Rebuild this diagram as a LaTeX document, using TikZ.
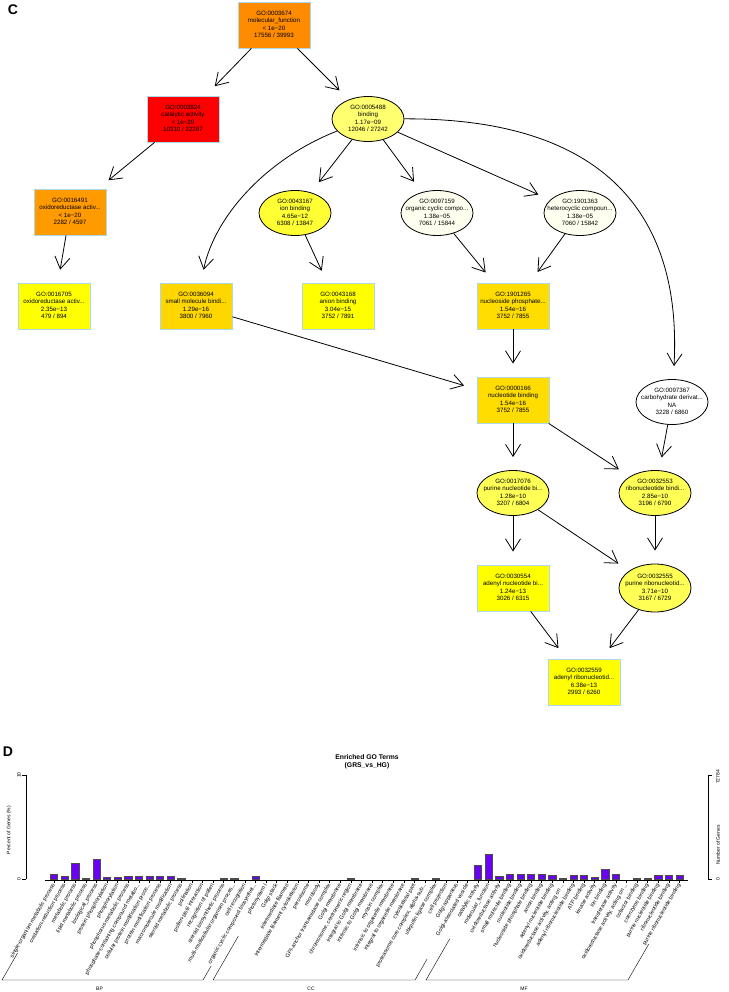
\documentclass[tikz,border=0pt]{standalone}
\usepackage{fontspec}
\setmainfont{Liberation Sans}
\usepackage{xcolor}
\usepackage{tikz}
\usetikzlibrary{arrows.meta,shapes.geometric}
\definecolor{goRed}{HTML}{FF0000}
\definecolor{goOrange}{HTML}{FF8C00}
\definecolor{goOrangeL}{HTML}{FF9A00}
\definecolor{goGold}{HTML}{FFD700}
\definecolor{goGoldL}{HTML}{FFDD00}
\definecolor{goYellow}{HTML}{FFFF00}
\definecolor{goYellowA}{HTML}{FFFF33}
\definecolor{goYellowB}{HTML}{FFFF55}
\definecolor{goYellowC}{HTML}{FFFF70}
\definecolor{goCream}{HTML}{FFFFF0}
\definecolor{goFrame}{HTML}{ADD8E6}
\definecolor{barViolet}{HTML}{6A00F4}

\newcommand{\gofont}{\fontsize{6.2}{7.3}\selectfont}
\newcommand{\goterm}[4]{\raisebox{-1.6pt}[0pt][0pt]{\makebox[0pt]{\begin{tabular}{@{}c@{}}#1\\#2\\#3\\#4\end{tabular}}}}
\newcommand{\trc}{...}

\begin{document}
\begin{tikzpicture}[x=1pt,y=-1pt,font=\gofont,
  gobox/.style={rectangle,draw=goFrame,line width=0.9pt,minimum width=72pt,minimum height=46pt,inner sep=0pt},
  gooval/.style={ellipse,draw,line width=0.8pt,minimum width=72pt,minimum height=45pt,inner sep=0pt},
  isa/.style={line width=0.8pt,-{Straight Barb[length=12pt,width=15pt]},shorten >=13pt},
  bar/.style={draw=black!70,line width=0.4pt,fill=barViolet},
  xlab/.style={font=\fontsize{5.5}{6}\selectfont,rotate=60,anchor=east,inner sep=0pt},
  axlab/.style={font=\fontsize{5}{6}\selectfont,rotate=90,inner sep=0pt},
  panel/.style={font=\fontsize{14}{14}\selectfont\bfseries}]
\useasboundingbox (0,0) rectangle (728,992);
% --- C ---
\node[panel] (labC) at (13,10) {C};
\node[gobox,fill=goOrange] (mf) at (274,25) {\goterm{GO:0003674}{molecular\_function}{< 1e−20}{17556 / 39993}};
\node[gobox,fill=goRed] (cat) at (183,119) {\goterm{GO:0003824}{catalytic activity}{< 1e−20}{10310 / 22267}};
\node[gooval,fill=goYellowC] (bind) at (368,119) {\goterm{GO:0005488}{binding}{1.17e−09}{12046 / 27242}};
\node[gobox,fill=goOrangeL] (oxr) at (70,212) {\goterm{GO:0016491}{oxidoreductase activ...}{< 1e−20}{2282 / 4597}};
\node[gooval,fill=goYellowA] (ion) at (295,213) {\goterm{GO:0043167}{ion binding}{4.65e−12}{6308 / 13847}};
\node[gooval,fill=goCream] (orgc) at (437,213) {\goterm{GO:0097159}{organic cyclic compo...}{1.38e−05}{7061 / 15844}};
\node[gooval,fill=goCream] (hetc) at (580,213) {\goterm{GO:1901363}{heterocyclic compoun...}{1.38e−05}{7060 / 15842}};
\node[gobox,fill=goYellow] (oxa) at (54,306) {\goterm{GO:0016705}{oxidoreductase activ...}{2.35e−13}{479 / 894}};
\node[gobox,fill=goGold] (smb) at (196,306) {\goterm{GO:0036094}{small molecule bindi...}{1.29e−16}{3800 / 7960}};
\node[gobox,fill=goYellow] (anion) at (338,306) {\goterm{GO:0043168}{anion binding}{3.04e−15}{3752 / 7891}};
\node[gobox,fill=goGoldL] (nsp) at (513,306) {\goterm{GO:1901265}{nucleoside phosphate...}{1.54e−16}{3752 / 7855}};
\node[gobox,fill=goGoldL] (ntb) at (513,400) {\goterm{GO:0000166}{nucleotide binding}{1.54e−16}{3752 / 7855}};
\node[gooval,fill=white] (carb) at (672,402) {\goterm{GO:0097367}{carbohydrate derivat...}{NA}{3228 / 6860}};
\node[gooval,fill=goYellowB] (pnb) at (513,493) {\goterm{GO:0017076}{purine nucleotide bi...}{1.28e−10}{3207 / 6804}};
\node[gooval,fill=goYellowB] (rnb) at (655,493) {\goterm{GO:0032553}{ribonucleotide bindi...}{2.85e−10}{3196 / 6790}};
\node[gobox,fill=goYellow] (anb) at (513,588) {\goterm{GO:0030554}{adenyl nucleotide bi...}{1.24e−13}{3026 / 6315}};
\node[gooval,fill=goYellowB,minimum height=48pt] (prb) at (655,588) {\goterm{GO:0032555}{purine ribonucleotid...}{3.71e−10}{3167 / 6729}};
\node[gobox,fill=goYellow] (arb) at (584,682) {\goterm{GO:0032559}{adenyl ribonucleotid...}{6.38e−13}{2993 / 6260}};

\draw[isa] (mf) -- (cat);
\draw[isa] (mf) -- (bind);
\draw[isa] (cat) -- (oxr);
\draw[isa] (oxr) -- (oxa);
\draw[isa] (bind) .. controls (268,158) and (215,215) .. (smb);
\draw[isa] (bind) -- (ion);
\draw[isa] (bind) -- (orgc);
\draw[isa] (bind) -- (hetc);
\draw[isa] (bind) .. controls (610,118) and (682,220) .. (carb);
\draw[isa] (ion) -- (anion);
\draw[isa] (orgc) -- (nsp);
\draw[isa] (hetc) -- (nsp);
\draw[isa] (smb) -- (ntb);
\draw[isa] (nsp) -- (ntb);
\draw[isa] (ntb) -- (pnb);
\draw[isa] (ntb) -- (rnb);
\draw[isa] (carb) -- (rnb);
\draw[isa] (pnb) -- (anb);
\draw[isa] (pnb) -- (prb);
\draw[isa] (rnb) -- (prb);
\draw[isa] (anb) -- (arb);
\draw[isa] (prb) -- (arb);

% --- D ---
\node[panel] (labD) at (8,752) {D};
\node[font=\fontsize{6.8}{8}\selectfont\bfseries,align=center] (title) at (367,762) {Enriched GO Terms\\(GRS\_vs\_HG)};
% axes
\coordinate (l0) at (26,879); \coordinate (l10) at (26,775);
\draw[line width=0.4pt] (l0) -- (l10) (l0) -- ++(-4,0) (l10) -- ++(-4,0);
\node[axlab] (lt0) at (19,879) {0};
\node[axlab] (lt10) at (19,775) {10};
\node[axlab] (ltitle) at (9,830) {Percent of Genes (\%)};
\coordinate (r0) at (708,879); \coordinate (rmax) at (708,775);
\draw[line width=0.4pt] (r0) -- (rmax) (r0) -- ++(4,0) (rmax) -- ++(4,0);
\node[axlab] (rt0) at (718,879) {0};
\node[axlab] (rtmax) at (718,777) {72784};
\node[axlab] (rtitle) at (718,845) {Number of Genes};
\draw[line width=0.4pt] (45,880) -- (688,880);
% bars
\foreach \h [count=\i] in {0.5,0.3,1.55,0.1,1.95,0.2,0.2,0.25,0.25,0.25,0.25,0.25,0.04,0,0,0,0.03,0.03,0,0.3,
  0,0,0,0,0,0,0,0,0.04,0,0,0,0,0,0.04,0,0.04,0,0,0,
  1.35,2.4,0.3,0.5,0.5,0.5,0.5,0.4,0.1,0.4,0.4,0.2,0.9,0.5,0,0.1,0.1,0.4,0.4,0.4} {
  \pgfmathsetmacro{\bx}{54+(\i-1)*10.6}
  \draw[line width=0.4pt] (\bx,880) -- (\bx,883);
  \ifdim\h pt>0pt \draw[bar] (\bx-3.6,879) rectangle (\bx+3.6,879-10.4*\h); \fi
}
% labels
\foreach \lab [count=\i] in {single-organism metabolic process, oxidation-reduction process, metabolic process,
  lipid metabolic process, biological\_process, protein phosphorylation, phosphorylation,
  phosphorus metabolic process, phosphate-containing compound metabo\trc, cellular protein modification proce\trc,
  protein modification process, macromolecule modification, steroid metabolic process, pollination,
  pollen-pistil interaction, recognition of pollen, steroid biosynthetic process,
  multi-multicellular organism proces\trc, cell recognition, organic cyclic compound biosynthet\trc,
  photosystem I, Golgi stack, intermediate filament, intermediate filament cytoskeleton, peroxisome,
  microbody, GPI-anchor transamidase complex, Golgi membrane, {chromosome, centromeric region},
  integral to Golgi membrane, intrinsic to Golgi membrane, myosin complex, intrinsic to organelle membrane,
  integral to organelle membrane, cytoskeletal part, {proteasome core complex, alpha-sub\trc},
  ubiquitin ligase complex, cell projection, Golgi apparatus, Golgi-associated vesicle,
  catalytic activity, molecular\_function, oxidoreductase activity, small molecule binding,
  nucleotide binding, nucleoside phosphate binding, anion binding, adenyl nucleotide binding,
  {oxidoreductase activity, acting on \trc}, adenyl ribonucleotide binding, ATP binding, kinase activity,
  ion binding, transferase activity, {oxidoreductase activity, acting on \trc}, cofactor binding,
  coenzyme binding, purine nucleotide binding, ribonucleotide binding, purine ribonucleotide binding} {
  \pgfmathsetmacro{\bx}{54+(\i-1)*10.6}
  \node[xlab] (x\i) at (\bx,884) {\lab};
}
% groups
\foreach \g/\la/\a/\b/\rb in {BP/27/2/203/14,CC/44/213/415/21,MF/41/426/628/36} {
  \draw[line width=0.4pt] (\a+0.577*\la,980-\la) -- (\a,980) -- (\b,980) -- (\b+0.577*\rb,980-\rb);
  \node[font=\fontsize{5}{6}\selectfont] (grp\g) at ({(\a+\b)/2-3},989) {\g};
}
\end{tikzpicture}
\end{document}
